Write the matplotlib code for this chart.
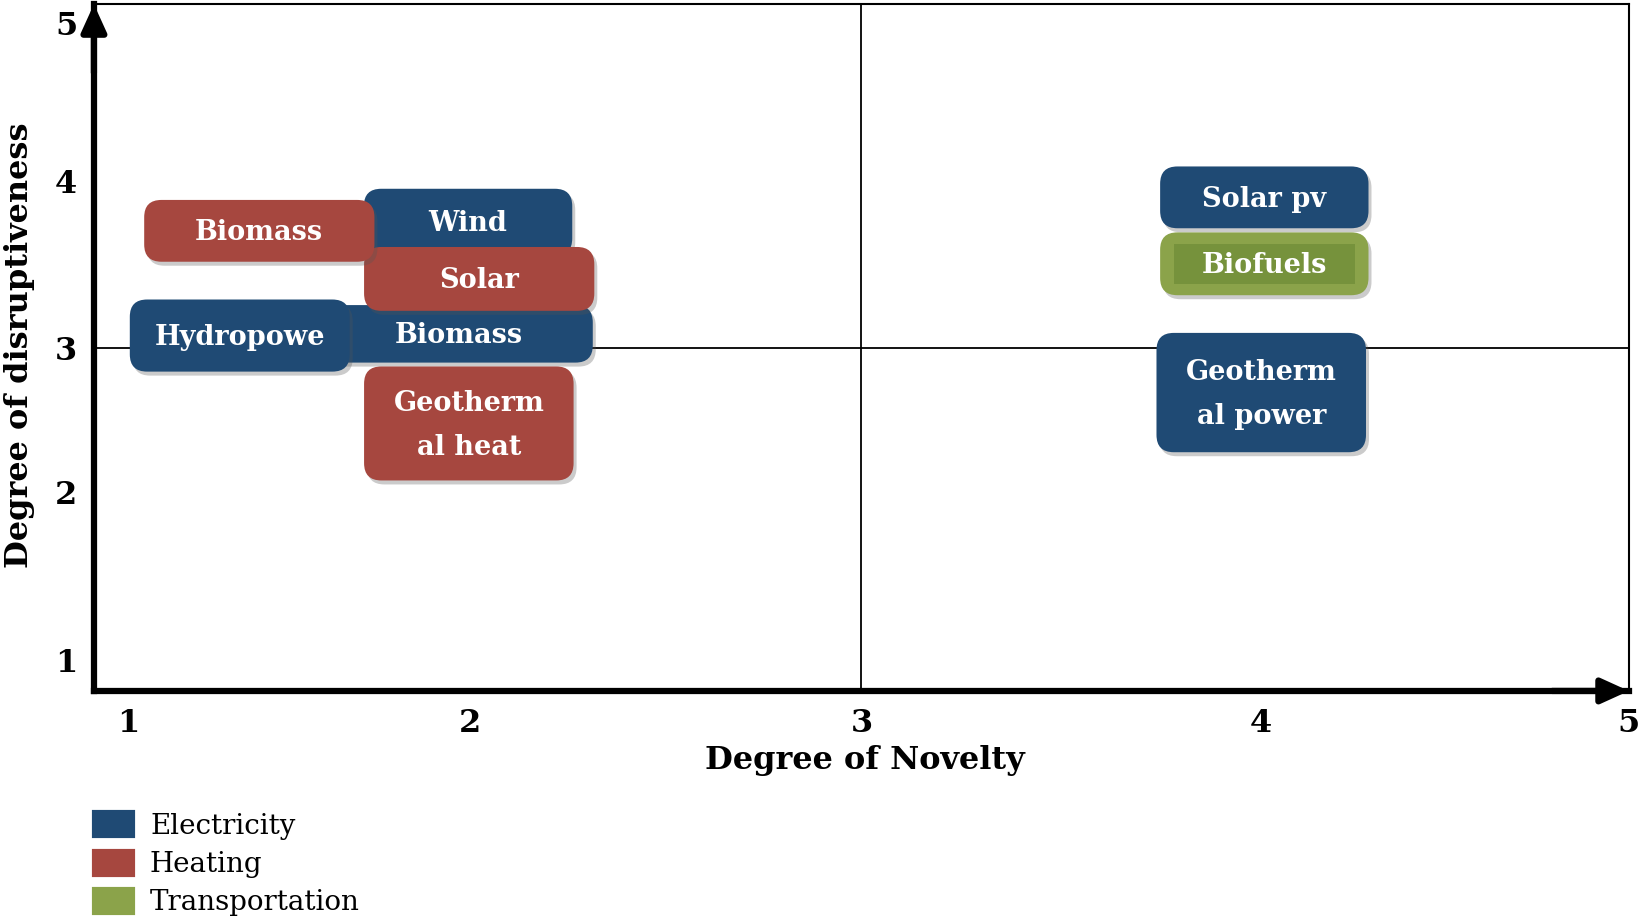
import matplotlib
matplotlib.use("Agg")
import matplotlib.pyplot as plt
from matplotlib.patches import FancyBboxPatch, Patch
from matplotlib.transforms import offset_copy

plt.rcParams['font.family'] = 'DejaVu Serif'

# data
techs = ['Biomass', 'Hydropowe', 'Wind', 'Solar', 'Biomass', 'Geotherm\nal heat',
         'Solar pv', 'Biofuels', 'Geotherm\nal power']
sectors = ['Electricity', 'Electricity', 'Electricity', 'Heating', 'Heating', 'Heating',
           'Electricity', 'Transportation', 'Electricity']
novelty = [1.95, 1.38, 1.975, 2.004, 1.431, 1.977, 4.05, 4.05, 4.042]
disrupt = [3.08, 3.07, 3.73, 3.40, 3.68, 2.558, 3.875, 3.488, 2.738]

sector_names = ['Electricity', 'Heating', 'Transportation']
x_ticks = [1.09, 1.98, 3.0, 4.04, 5.0]
y_ticks = [1.18, 2.16, 3.0, 3.97, 4.89]
tick_labels = ['1', '2', '3', '4', '5']

# layout of the boxes (width, height in data units)
box_w = [0.70, 0.573, 0.543, 0.60, 0.60, 0.546, 0.543, 0.543, 0.546]
box_h = [0.335, 0.42, 0.39, 0.372, 0.36, 0.664, 0.36, 0.366, 0.695]
colors = {'Electricity': '#1F4A74', 'Heating': '#A6473F', 'Transportation': '#8BA34A'}
inner_green = '#76923C'

fig = plt.figure(figsize=(16.42, 9.16), dpi=100)
ax = fig.add_axes([0.0572, 0.2457, 0.9348, 0.7497])
ax.set_xlim(1, 5)
ax.set_ylim(1, 5)

for s in ['top', 'right']:
    ax.spines[s].set_linewidth(1.5)
for s in ['left', 'bottom']:
    ax.spines[s].set_linewidth(4.5)

ax.axvline(3, color='black', lw=1.3, zorder=1)
ax.axhline(3, color='black', lw=1.3, zorder=1)

ax.set_xticks(x_ticks)
ax.set_xticklabels(tick_labels, fontsize=23, fontweight='bold')
ax.set_yticks(y_ticks)
ax.set_yticklabels(tick_labels, fontsize=23, fontweight='bold')
ax.tick_params(length=0, pad=12)

# arrows on the axes
arr = dict(arrowstyle='-|>,head_length=0.55,head_width=0.25', mutation_scale=30,
           lw=4.5, color='black', shrinkA=0, shrinkB=0)
ax.annotate('', xy=(0, 1.0), xytext=(0, 0.9), xycoords='axes fraction', arrowprops=arr,
            annotation_clip=False)
ax.annotate('', xy=(1.0, 0), xytext=(0.95, 0), xycoords='axes fraction', arrowprops=arr,
            annotation_clip=False)

# mutation aspect so that rounded corners look round
bbox = ax.get_position()
px_w = bbox.width * fig.get_figwidth()
px_h = bbox.height * fig.get_figheight()
aspect = (4 / px_h) / (4 / px_w)
r = 0.045

shadow_tr = offset_copy(ax.transData, fig=fig, x=3, y=-4, units='dots')
for i, name in enumerate(techs):
    x0 = novelty[i] - box_w[i] / 2
    y0 = disrupt[i] - box_h[i] / 2
    sh = FancyBboxPatch((x0, y0), box_w[i], box_h[i],
                        boxstyle=f'round,pad=0,rounding_size={r}', mutation_aspect=aspect,
                        fc='#555555', ec='none', alpha=0.3, transform=shadow_tr, zorder=2 + i * 0.1)
    ax.add_patch(sh)
    bx = FancyBboxPatch((x0, y0), box_w[i], box_h[i],
                        boxstyle=f'round,pad=0,rounding_size={r}', mutation_aspect=aspect,
                        fc=colors[sectors[i]], ec='none', zorder=2.05 + i * 0.1)
    ax.add_patch(bx)
    if sectors[i] == 'Transportation':
        ax.add_patch(plt.Rectangle((x0 + 0.035, y0 + 0.065), box_w[i] - 0.07, box_h[i] - 0.13,
                                   fc=inner_green, ec='none', zorder=2.06 + i * 0.1))
    ax.text(novelty[i], disrupt[i] - 0.01, name, ha='center', va='center', color='white',
            fontsize=19.5, fontweight='bold', linespacing=1.8, zorder=2.07 + i * 0.1)

fig.text(0.527, 0.170, 'Degree of Novelty', ha='center', va='center',
         fontsize=23, fontweight='bold')
fig.text(0.012, 0.623, 'Degree of disruptiveness', ha='center', va='center',
         rotation=90, fontsize=23, fontweight='bold')

handles = [Patch(fc=colors[s], ec=colors[s], lw=3, joinstyle='round') for s in sector_names]
fig.legend(handles, sector_names, loc='upper left', bbox_to_anchor=(0.0575, 0.113),
           frameon=False, fontsize=20, handlelength=1.4, handleheight=0.95,
           handletextpad=0.6, labelspacing=0.38, borderpad=0, borderaxespad=0)

fig.savefig('out.png', dpi=100)
